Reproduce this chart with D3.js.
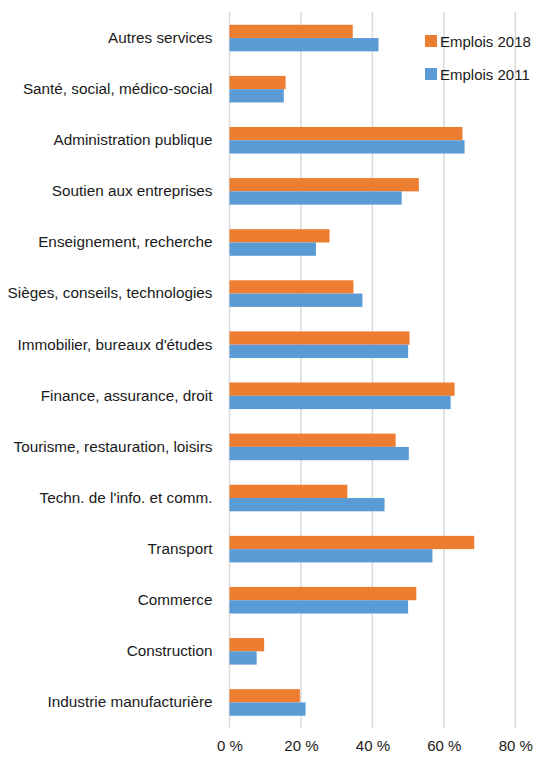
<!DOCTYPE html>
<html>
<head>
<meta charset="utf-8">
<script src="https://cdn.jsdelivr.net/npm/d3@7"></script>
<style>
  body { margin: 0; background: #fff; }
  text { font-family: "Liberation Sans", Arial, sans-serif; fill: #1a1a1a; }
</style>
</head>
<body>
<div id="chart"></div>
<script>
(function() {
    const categories = [
        'Autres services',
        'Santé, social, médico-social',
        'Administration publique',
        'Soutien aux entreprises',
        'Enseignement, recherche',
        'Sièges, conseils, technologies',
        "Immobilier, bureaux d'études",
        'Finance, assurance, droit',
        'Tourisme, restauration, loisirs',
        "Techn. de l'info. et comm.",
        'Transport',
        'Commerce',
        'Construction',
        'Industrie manufacturière'
    ];
    const emplois2018 = [34.5, 15.7, 65.2, 53.0, 28.0, 34.7, 50.4, 63.0, 46.5, 33.0, 68.5, 52.3, 9.7, 19.7];
    const emplois2011 = [41.7, 15.2, 65.8, 48.2, 24.2, 37.2, 50.0, 61.9, 50.2, 43.4, 56.8, 50.0, 7.6, 21.3];
    const seriesNames = ['Emplois 2018', 'Emplois 2011'];
    const seriesColors = ['#ED7D31', '#5B9BD5'];
    const xTicks = [0, 20, 40, 60, 80];

    const width = 536,
          height = 757;

    const xScale = d3.scaleLinear()
        .domain([0, 80])
        .range([229.5, 515.3]);

    const yScale = d3.scaleBand()
        .domain(categories)
        .range([12.5, 728])
        .paddingInner(0.48)
        .paddingOuter(0.24);

    const subScale = d3.scaleBand()
        .domain(seriesNames)
        .range([0, yScale.bandwidth()]);

    const svg = d3.select('#chart')
        .append('svg')
        .attr('width', width)
        .attr('height', height);

    // gridlines
    svg.append('g')
        .selectAll('line')
        .data(xTicks)
        .enter().append('line')
        .attr('x1', d => xScale(d))
        .attr('x2', d => xScale(d))
        .attr('y1', 12)
        .attr('y2', 728)
        .attr('stroke', '#D9D9D9')
        .attr('stroke-width', 1.5);

    const rows = categories.map((c, i) => ({
        cat: c,
        values: [emplois2018[i], emplois2011[i]]
    }));

    const groups = svg.append('g')
        .selectAll('g')
        .data(rows)
        .enter().append('g')
        .attr('transform', d => `translate(0, ${yScale(d.cat)})`);

    groups.selectAll('rect')
        .data(d => d.values.map((v, j) => ({ name: seriesNames[j], value: v, color: seriesColors[j] })))
        .enter().append('rect')
        .attr('x', xScale(0))
        .attr('y', d => subScale(d.name))
        .attr('width', d => xScale(d.value) - xScale(0))
        .attr('height', subScale.bandwidth())
        .attr('fill', d => d.color);

    // category labels
    const yAxis = d3.axisLeft(yScale).tickSize(0).tickPadding(17);
    svg.append('g')
        .attr('transform', `translate(${xScale(0)}, 0)`)
        .call(yAxis)
        .call(g => g.select('.domain').remove())
        .selectAll('text')
        .attr('font-size', 15.3)
        .attr('font-family', '"Liberation Sans", Arial, sans-serif');

    // x axis labels
    const xAxis = d3.axisBottom(xScale)
        .tickValues(xTicks)
        .tickFormat(d => d + ' %')
        .tickSize(0)
        .tickPadding(12);
    svg.append('g')
        .attr('transform', 'translate(0, 728)')
        .call(xAxis)
        .call(g => g.select('.domain').remove())
        .selectAll('text')
        .attr('font-size', 15)
        .attr('font-family', '"Liberation Sans", Arial, sans-serif');

    // legend
    const legend = svg.append('g')
        .attr('transform', 'translate(425, 35)');
    const items = legend.selectAll('g')
        .data(seriesNames)
        .enter().append('g')
        .attr('transform', (d, i) => `translate(0, ${i * 33})`);
    items.append('rect')
        .attr('width', 12)
        .attr('height', 12)
        .attr('fill', (d, i) => seriesColors[i]);
    items.append('text')
        .attr('x', 15)
        .attr('y', 11.5)
        .attr('font-size', 15)
        .text(d => d);
})();
</script>
</body>
</html>
